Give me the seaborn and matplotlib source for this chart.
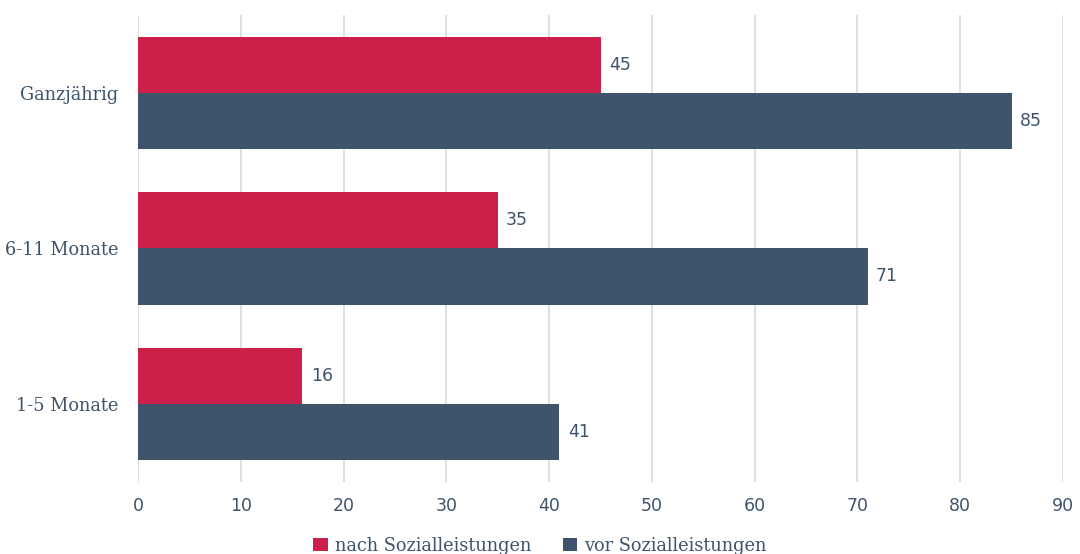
import matplotlib
matplotlib.use("Agg")
import matplotlib.pyplot as plt
import seaborn as sns
import pandas as pd

categories = ["Ganzjährig", "6-11 Monate", "1-5 Monate"]
series_names = ["nach Sozialleistungen", "vor Sozialleistungen"]
nach = [45, 35, 16]
vor = [85, 71, 41]
xticks = [0, 10, 20, 30, 40, 50, 60, 70, 80, 90]

df = pd.DataFrame({
    "Kategorie": categories * 2,
    "Serie": [series_names[0]] * 3 + [series_names[1]] * 3,
    "Wert": nach + vor,
})

sns.set_style("white")
plt.rcParams['font.family'] = ['DejaVu Serif', 'DejaVu Sans']
txt = "#3E546B"
colors = ["#CC1F4A", "#3E546B"]

fig = plt.figure(figsize=(10.8, 5.54), dpi=100)
ax = fig.add_axes([0.1278, 0.130, 0.8565, 0.843])
sns.barplot(data=df, y="Kategorie", x="Wert", hue="Serie", order=categories,
            hue_order=series_names, palette=colors, orient="h", width=0.72,
            ax=ax, saturation=1, legend=False, linewidth=0, edgecolor="none")

for cont in ax.containers:
    ax.bar_label(cont, labels=[f"{v:.0f}" for v in cont.datavalues], padding=6,
                 color=txt, fontsize=12.5, family="DejaVu Sans")

ax.set_xlim(0, 90)
ax.set_ylim(2.5, -0.5)
ax.set_xticks(xticks)
ax.set_xticklabels([str(t) for t in xticks], family="DejaVu Sans")
ax.xaxis.grid(True, color="#D9D9D9", linewidth=1.2)
ax.set_axisbelow(True)
for s in ax.spines.values():
    s.set_visible(False)
ax.tick_params(axis="x", length=0, pad=11, labelsize=12.5, colors=txt)
ax.tick_params(axis="y", length=0, pad=14, labelsize=12.8, colors=txt)
ax.set_xlabel("")
ax.set_ylabel("")

from matplotlib.patches import Patch
handles = [Patch(facecolor=c, edgecolor="none") for c in colors]
fig.legend(handles, series_names, loc="lower center", bbox_to_anchor=(0.5, -0.03),
           ncol=2, frameon=False, fontsize=12.8, labelcolor=txt,
           handlelength=0.8, handleheight=0.8, handletextpad=0.4, columnspacing=1.8)

fig.savefig("out.png", dpi=100)
